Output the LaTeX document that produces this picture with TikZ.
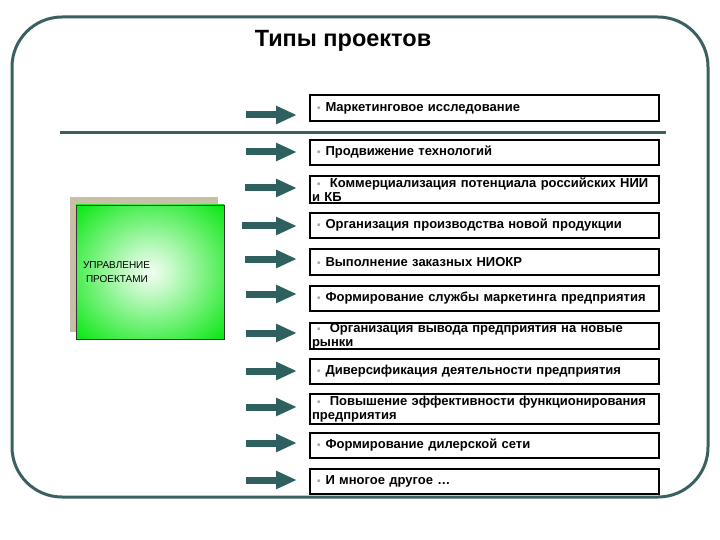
\documentclass[tikz,border=0pt]{standalone}
\usepackage{fontspec}
\setmainfont{Liberation Sans}
\usetikzlibrary{arrows.meta}
\definecolor{frameteal}{RGB}{58,96,96}
\definecolor{arrowteal}{RGB}{46,96,96}
\definecolor{boxgreen}{RGB}{16,232,26}
\definecolor{shadowtan}{RGB}{201,191,166}
\pgfdeclareradialshading{glow}{\pgfpoint{0bp}{0bp}}{color(0bp)=(white!95!boxgreen); color(8bp)=(white!75!boxgreen); color(34bp)=(boxgreen); color(50bp)=(boxgreen)}
\newcommand{\bul}{\hspace*{5pt}{\fontsize{10}{10}\selectfont\color{gray!70}\textbullet}\hspace{5pt}}

\begin{document}
\begin{tikzpicture}[x=1pt,y=-1pt,
  item/.style={draw, line width=2pt, minimum width=349pt, minimum height=25pt,
    text width=345pt, inner xsep=2pt, inner ysep=0pt, align=left, anchor=north west,
    font=\bfseries\fontsize{13}{14.5}\selectfont},
  flow/.style={arrowteal, line width=7pt, -{Triangle[length=21pt,width=17pt]}, shorten >=12pt}]
\useasboundingbox (0,0) rectangle (720,540);
\draw[frameteal, line width=3pt, rounded corners=50pt] (12,17) rectangle (708,497);
\node[font=\bfseries\fontsize{23.5}{26}\selectfont] (title) at (343,41) {Типы проектов};
\draw[frameteal, line width=3pt] (60,133) -- (666,133);
% project management box
\node[fill=shadowtan, minimum width=148pt, minimum height=135pt, inner sep=0pt] (shadow) at (144,264.5) {};
\node[draw=black!80, line width=0.8pt, shading=glow, minimum width=148pt, minimum height=134pt,
  text width=134pt, inner xsep=7pt, align=left, font=\fontsize{10}{14.5}\selectfont] (pm) at (150,272) {УПРАВЛЕНИЕ\\\hspace*{3pt}ПРОЕКТАМИ};
% project types
\node[item, minimum height=26pt] (b1) at (309,94) {\bul Маркетинговое исследование};
\node[item] (b2) at (309,139) {\bul Продвижение технологий};
\node[item, minimum height=27pt] (b3) at (309,175) {\bul\ Коммерциализация потенциала российских НИИ\\и КБ};
\node[item] (b4) at (309,212) {\bul Организация производства новой продукции};
\node[item, minimum height=26pt] (b5) at (309,248) {\bul Выполнение заказных НИОКР};
\node[item] (b6) at (309,285) {\bul Формирование службы маркетинга предприятия};
\node[item, minimum height=26pt] (b7) at (309,322) {\bul\ Организация вывода предприятия на новые\\рынки};
\node[item] (b8) at (309,358) {\bul Диверсификация деятельности предприятия};
\node[item, minimum height=30pt] (b9) at (309,393) {\bul\ Повышение эффективности функционирования\\предприятия};
\node[item] (b10) at (309,432) {\bul Формирование дилерской сети};
\node[item] (b11) at (309,468) {\bul И многое другое \dots};
% arrows
\coordinate (a1) at (246,115);
\coordinate (a2) at (246,152);
\coordinate (a3) at (245,188);
\coordinate (a4) at (242,226);
\coordinate (a5) at (245,259);
\coordinate (a6) at (246,294);
\coordinate (a7) at (246,333);
\coordinate (a8) at (246,371);
\coordinate (a9) at (246,407);
\coordinate (a10) at (246,443);
\coordinate (a11) at (246,480);
\draw[flow] (a1) -- (a1 -| b1.west);
\draw[flow] (a2) -- (a2 -| b2.west);
\draw[flow] (a3) -- (a3 -| b3.west);
\draw[flow] (a4) -- (a4 -| b4.west);
\draw[flow] (a5) -- (a5 -| b5.west);
\draw[flow] (a6) -- (a6 -| b6.west);
\draw[flow] (a7) -- (a7 -| b7.west);
\draw[flow] (a8) -- (a8 -| b8.west);
\draw[flow] (a9) -- (a9 -| b9.west);
\draw[flow] (a10) -- (a10 -| b10.west);
\draw[flow] (a11) -- (a11 -| b11.west);
\end{tikzpicture}
\end{document}
